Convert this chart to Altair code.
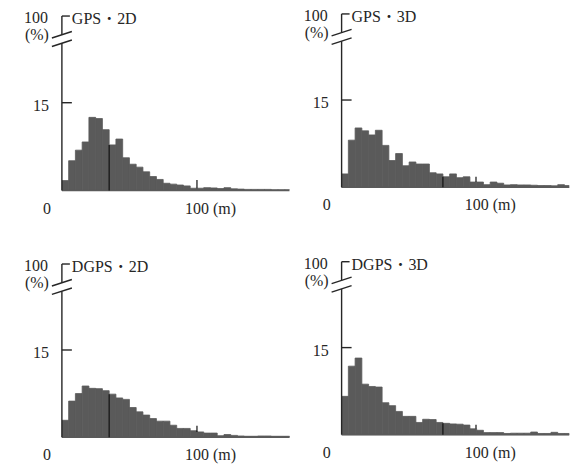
import altair as alt
import pandas as pd

# ---------------- data (percent of fixes per 5 m error bin, 0-170 m) ----------------
titles = ["GPS・2D", "GPS・3D", "DGPS・2D", "DGPS・3D"]
bin_width_m = 5
gps_2d = [1.7, 5.1, 6.9, 8.3, 12.5, 12.3, 10.4, 7.8, 8.8, 5.6, 4.5, 4.0, 3.2, 2.4, 1.9, 1.25, 1.1,
          0.95, 0.8, 0.4, 0.4, 0.5, 0.45, 0.35, 0.5, 0.3, 0.25, 0.2, 0.2, 0.2, 0.2, 0.15, 0.15, 0.15]
gps_3d = [2.3, 8.1, 10.2, 9.7, 9.0, 9.8, 7.2, 4.6, 5.8, 3.7, 4.35, 4.0, 4.0, 2.5, 2.3, 1.8, 2.3,
          1.65, 1.8, 0.9, 0.9, 0.45, 0.9, 0.7, 0.4, 0.45, 0.4, 0.4, 0.35, 0.3, 0.3, 0.25, 0.45, 0.3]
dgps_2d = [2.9, 6.2, 7.5, 8.8, 8.4, 8.35, 8.0, 7.4, 6.75, 6.5, 5.1, 4.35, 3.8, 3.2, 2.75, 2.75, 2.05,
           1.5, 1.5, 1.1, 0.9, 0.7, 0.7, 0.25, 0.45, 0.3, 0.2, 0.15, 0.15, 0.2, 0.2, 0.15, 0.15, 0.15]
dgps_3d = [6.6, 11.8, 13.2, 8.7, 8.3, 8.2, 5.5, 5.0, 4.0, 3.15, 3.15, 2.1, 2.65, 2.6, 2.1, 1.95, 1.85,
           1.8, 1.65, 1.0, 0.75, 0.35, 0.35, 0.35, 0.2, 0.25, 0.25, 0.25, 0.45, 0.2, 0.2, 0.4, 0.2, 0.2]
series = [gps_2d, gps_3d, dgps_2d, dgps_3d]
median_m = [35, 75, 35, 75]          # dark line drawn inside the bars
mark_m = [100, 99.5, 100, 99.5]      # small tick near 100 m
mark_top = [1.8, 1.8, 1.95, 1.7]
y_tick_value = 15
y_top_label = "100"
y_unit_label = "(%)"
x_labels = ["0", "100 (m)"]
x_label_pos = [0, 100]

# ---------------- layout / style ----------------
FONT = "Liberation Serif, Noto Serif CJK JP, Noto Sans CJK JP, serif"
INK = "#262626"
BAR = "#5a5a5a"
W, H = 228, 176
X_MAX = 168.5
PX_M = W / X_MAX
AXIS_TOP = 29.8
panel_base = [176.5, 173.2, 175.5, 173.0]   # baseline offset (px) from plot top
panel_ppp = [5.867, 5.827, 5.82, 5.813]     # px per percent


def panel(i):
    s = panel_ppp[i]
    b = panel_base[i]
    xs = alt.Scale(domain=[0, X_MAX], nice=False, zero=False)
    ys = alt.Scale(domain=[(b - H) / s, b / s], nice=False, zero=False)

    def X(f):
        return alt.X(f, type="quantitative", scale=xs, axis=None)

    def Y(f):
        return alt.Y(f, type="quantitative", scale=ys, axis=None)

    def vx(px):
        return px / PX_M

    def vy(py):
        return AXIS_TOP - py / s

    vals = series[i]
    bars_df = pd.DataFrame({
        "x0": [k * bin_width_m for k in range(len(vals))],
        "x1": [(k + 1) * bin_width_m for k in range(len(vals))],
        "pct": vals,
    })
    bars = alt.Chart(bars_df).mark_rect(color=BAR, stroke=BAR, strokeWidth=0.8, clip=True).encode(
        x=X("x0"), x2=alt.X2("x1"), y=Y("zero"), y2=alt.Y2("pct")
    ).transform_calculate(zero="0")

    base_df = pd.DataFrame({"x": [0], "x2": [X_MAX], "y": [0], "y2": [0]})
    baseline = alt.Chart(base_df).mark_rule(color=BAR, strokeWidth=1.6).encode(
        x=X("x"), x2=alt.X2("x2"), y=Y("y"), y2=alt.Y2("y2"))

    med_h = vals[int(median_m[i] // bin_width_m)]
    tick_h = vals[int(mark_m[i] // bin_width_m)]
    mk_df = pd.DataFrame({
        "x": [median_m[i], mark_m[i]],
        "y": [0, tick_h],
        "y2": [med_h, mark_top[i]],
    })
    markers = alt.Chart(mk_df).mark_rule(color="#111111", strokeWidth=1.2).encode(
        x=X("x"), y=Y("y"), y2=alt.Y2("y2"))

    dec_df = pd.DataFrame({
        "x": [0, 0, 0, 0, vx(-10), vx(-10)],
        "x2": [0, 0, vx(8), vx(10), vx(10), vx(10)],
        "y": [0, vy(18.75), AXIS_TOP, y_tick_value, vy(22), vy(30.5)],
        "y2": [vy(27.25), AXIS_TOP, AXIS_TOP, y_tick_value, vy(15.5), vy(24)],
    })
    decor = alt.Chart(dec_df).mark_rule(color=INK, strokeWidth=1.4).encode(
        x=X("x"), x2=alt.X2("x2"), y=Y("y"), y2=alt.Y2("y2"))

    def txt(label, xv, yv, dx, dy, align, size=16):
        df = pd.DataFrame({"t": [label], "x": [xv], "y": [yv]})
        return alt.Chart(df).mark_text(
            font=FONT, fontSize=size, color=INK, align=align, baseline="middle", dx=dx, dy=dy
        ).encode(x=X("x"), y=Y("y"), text="t:N")

    texts = [
        txt(titles[i], 0, AXIS_TOP, 10, 3, "left"),
        txt(y_top_label, 0, AXIS_TOP, -26, 2, "center"),
        txt(y_unit_label, 0, AXIS_TOP, -25, 19, "center"),
        txt(str(y_tick_value), 0, y_tick_value, -13, 3, "right"),
        txt(x_labels[0], x_label_pos[0], 0, -15, 18, "center"),
        txt(x_labels[1], x_label_pos[1], 0, -12, 18, "left"),
    ]

    layers = [bars, baseline, markers, decor] + texts
    if i == 0:
        anchor = alt.Chart(pd.DataFrame({"a": [0]})).mark_rule(opacity=0, color="white").encode(
            x=alt.value(-61.3), x2=alt.value(-61.3), y=alt.value(-13.5), y2=alt.value(-12.5))
        layers.append(anchor)
    return alt.layer(*layers).properties(width=W, height=H)


chart = alt.concat(
    *[panel(i) for i in range(4)],
    columns=2,
    spacing={"row": 72, "column": 52.2},
    bounds="flush",
).configure_view(stroke=None).properties(padding=0, background="white")

chart.save("out.html", embed_options={"renderer": "svg", "actions": False})
